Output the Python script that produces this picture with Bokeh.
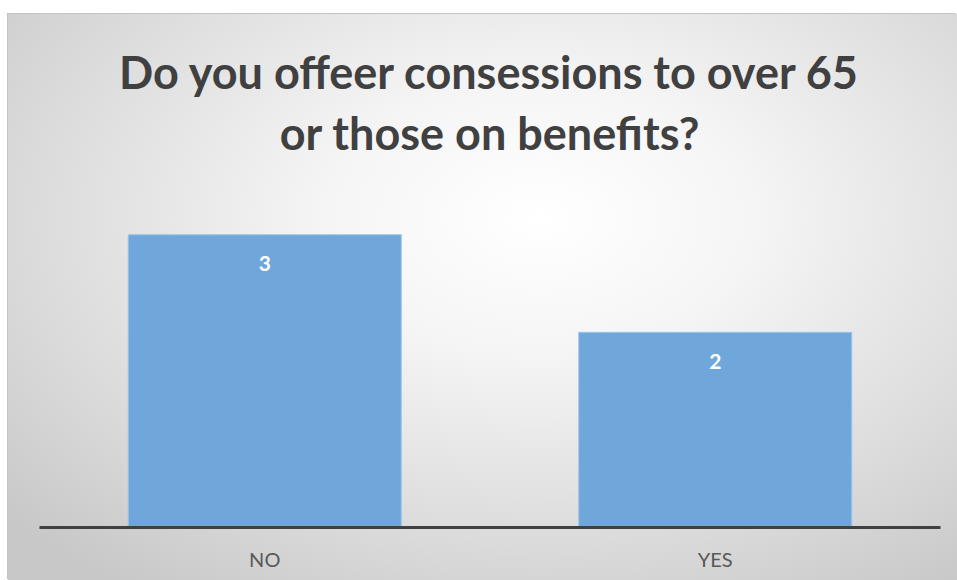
from bokeh.plotting import figure
from bokeh.models import ColumnDataSource, LabelSet, Range1d, Title
from bokeh.core.properties import value
from bokeh.embed import file_html
from bokeh.resources import INLINE

categories = ["NO", "YES"]
counts = [3, 2]
count_labels = ["3", "2"]
title_lines = ["Do you offeer consessions to over 65", "or those on benefits?"]

src = ColumnDataSource(dict(cat=categories, val=counts, lab=count_labels))

p = figure(x_range=categories, y_range=Range1d(0, 3.72), width=949, height=566,
           output_backend="svg", toolbar_location=None, title=None,
           min_border_left=31, min_border_right=17, min_border_bottom=53, min_border_top=150)

standoffs = [0, 10]
for line, so in reversed(list(zip(title_lines, standoffs))):
    p.add_layout(Title(text=line, align="center", text_font="Lato",
                       text_font_style="bold", text_font_size="45px",
                       text_color="#404040", standoff=so), "above")

p.vbar(x="cat", top="val", width=0.606, source=src,
       fill_color="#70A7DA", line_color="#9cc3e8", line_width=1)

p.add_layout(LabelSet(x="cat", y="val", text="lab", source=src,
                      text_align="center", text_baseline="middle", y_offset=-29,
                      text_color="white", text_font=value("Lato"),
                      text_font_style="bold", text_font_size="21px"))

p.yaxis.visible = False
p.xaxis.axis_line_width = 3
p.xaxis.axis_line_color = "#404040"
p.xaxis.major_tick_line_color = None
p.xaxis.minor_tick_line_color = None
p.xaxis.major_label_text_font = "Lato"
p.xaxis.major_label_text_font_size = "20px"
p.xaxis.major_label_text_color = "#595959"
p.xaxis.major_label_standoff = 13
p.xgrid.grid_line_color = None
p.ygrid.grid_line_color = None
p.outline_line_color = None
p.background_fill_alpha = 0
p.border_fill_alpha = 0
p.styles = {
    "background": "radial-gradient(ellipse 75% 80% at 56% 36%, #ffffff 0%, #f5f5f5 30%, #dcdcdc 70%, #c8c8c8 100%)",
    "margin-left": "8px",
    "margin-top": "14px",
    "box-shadow": "-1px -1px 0 #c4c4c4",
}

open("out.html", "w").write(file_html(p, INLINE))
